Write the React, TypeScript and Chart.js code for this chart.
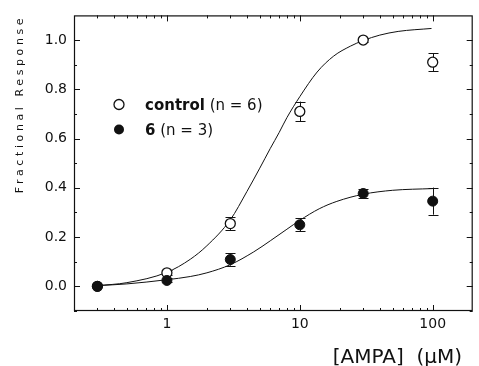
import React, { useEffect, useRef } from "react";
import { Chart, registerables } from "chart.js";

Chart.register(...registerables);

// ---- data ----
const concentrations = [0.3, 1, 3, 10, 30, 100];
const controlMean = [0, 0.055, 0.255, 0.71, 1.0, 0.91];
const controlErr = [0, 0.01, 0.026, 0.04, 0.006, 0.036];
const treatedMean = [0, 0.024, 0.109, 0.25, 0.377, 0.346];
const treatedErr = [0, 0.008, 0.025, 0.026, 0.02, 0.055];

const controlFitX = [0.3, 0.5, 1, 1.5, 2, 3, 4, 5, 6, 7, 8, 10, 13.5, 18, 24, 30, 40, 55, 98];
const controlFitY = [0.003, 0.015, 0.057, 0.11, 0.165, 0.27, 0.385, 0.48, 0.56, 0.625, 0.685, 0.77, 0.87, 0.935, 0.975, 0.998, 1.02, 1.035, 1.047];
const treatedFitX = [0.3, 0.5, 1, 1.5, 2, 3, 4.5, 6, 8, 10, 14, 19, 30, 50, 100];
const treatedFitY = [0.003, 0.01, 0.027, 0.04, 0.055, 0.088, 0.14, 0.185, 0.232, 0.268, 0.315, 0.345, 0.374, 0.39, 0.397];

const xTickValues = [1, 10, 100];
const yTickValues = [0, 0.2, 0.4, 0.6, 0.8, 1.0];
const yMinorValues = [-0.1, 0.1, 0.3, 0.5, 0.7, 0.9];
const xMinorMultipliers = [2, 3, 4, 5, 6, 7, 8, 9];
const xDecades = [0.1, 1, 10, 100];

const xTitle = "[AMPA]  (\u03BCM)";
const yTitle = "Fractional Response";
const legendBold = ["control", "6"];
const legendRest = [" (n = 6)", " (n = 3)"];
const legendFilled = [false, true];

const FONT = "'DejaVu Sans', 'Liberation Sans', Arial, sans-serif";
const INK = "#111";

const decorPlugin = {
  id: "decor",
  beforeDatasetsDraw(chart: any) {
    const { ctx } = chart;
    const xs = chart.scales.x;
    const ys = chart.scales.y;
    ctx.save();
    ctx.strokeStyle = INK;
    ctx.lineWidth = 1;
    const drawBars = (means: number[], errs: number[]) => {
      concentrations.forEach((c, i) => {
        if (!errs[i]) return;
        const px = Math.round(xs.getPixelForValue(c)) + 0.5;
        const top = ys.getPixelForValue(means[i] + errs[i]);
        const bot = ys.getPixelForValue(means[i] - errs[i]);
        ctx.beginPath();
        ctx.moveTo(px, top);
        ctx.lineTo(px, bot);
        ctx.moveTo(px - 5, Math.round(top) + 0.5);
        ctx.lineTo(px + 5, Math.round(top) + 0.5);
        ctx.moveTo(px - 5, Math.round(bot) + 0.5);
        ctx.lineTo(px + 5, Math.round(bot) + 0.5);
        ctx.stroke();
      });
    };
    drawBars(controlMean, controlErr);
    drawBars(treatedMean, treatedErr);
    ctx.restore();
  },
  afterDraw(chart: any) {
    const { ctx, chartArea: a } = chart;
    const xs = chart.scales.x;
    const ys = chart.scales.y;
    ctx.save();
    ctx.strokeStyle = INK;
    ctx.lineWidth = 1.2;
    // frame
    ctx.strokeRect(a.left + 0.5, a.top + 0.5, a.right - a.left - 1, a.bottom - a.top - 1);

    ctx.lineWidth = 1;
    const major = 6;
    const minor = 3;
    ctx.beginPath();
    // y ticks (inward, left and right)
    const yTick = (v: number, len: number) => {
      const py = Math.round(ys.getPixelForValue(v)) + 0.5;
      ctx.moveTo(a.left, py);
      ctx.lineTo(a.left + len, py);
      ctx.moveTo(a.right, py);
      ctx.lineTo(a.right - len, py);
    };
    yTickValues.forEach((v) => yTick(v, major));
    yMinorValues.forEach((v) => yTick(v, minor));
    // x ticks (inward, bottom and top)
    const xTick = (v: number, len: number) => {
      const px = Math.round(xs.getPixelForValue(v)) + 0.5;
      if (px <= a.left + 1 || px >= a.right - 1) return;
      ctx.moveTo(px, a.bottom);
      ctx.lineTo(px, a.bottom - len);
      ctx.moveTo(px, a.top);
      ctx.lineTo(px, a.top + len);
    };
    xTickValues.forEach((v) => xTick(v, major));
    xDecades.forEach((d) =>
      xMinorMultipliers.forEach((m) => {
        const v = m * d;
        if (v > xs.min && v < xs.max) xTick(v, minor);
      })
    );
    ctx.stroke();

    // x title
    ctx.fillStyle = INK;
    ctx.font = `20px ${FONT}`;
    ctx.textAlign = "right";
    ctx.textBaseline = "alphabetic";
    ctx.fillText(xTitle, 462, 363);

    // y title (rotated, letter-spaced)
    ctx.save();
    ctx.font = `11px ${FONT}`;
    (ctx as any).letterSpacing = "3.6px";
    ctx.translate(23, 104);
    ctx.rotate(-Math.PI / 2);
    ctx.textAlign = "center";
    ctx.fillText(yTitle, 0, 0);
    ctx.restore();

    // legend
    const rows = [109.5, 134.5];
    rows.forEach((base, i) => {
      ctx.beginPath();
      ctx.arc(119, base - 5, 5, 0, Math.PI * 2);
      if (legendFilled[i]) {
        ctx.fillStyle = INK;
        ctx.fill();
      } else {
        ctx.fillStyle = "#fff";
        ctx.fill();
        ctx.lineWidth = 1.3;
        ctx.stroke();
      }
      ctx.fillStyle = INK;
      ctx.textAlign = "left";
      ctx.font = `bold 15px ${FONT}`;
      ctx.fillText(legendBold[i], 145, base);
      const w = ctx.measureText(legendBold[i]).width;
      ctx.font = `15px ${FONT}`;
      ctx.fillText(legendRest[i], 145 + w, base);
    });
    ctx.restore();
  },
};

export default function App() {
  const ref = useRef<HTMLCanvasElement | null>(null);
  useEffect(() => {
    if (!ref.current) return;
    const pts = (xs: number[], ys: number[]) => xs.map((x, i) => ({ x, y: ys[i] }));
    // Chart.js paints the first dataset last (on top): filled points, then open points, then curves
    const chart = new Chart(ref.current, {
      type: "scatter",
      data: {
        datasets: [
          {
            label: "6 (n = 3)",
            data: pts(concentrations, treatedMean),
            pointRadius: 5,
            pointBackgroundColor: INK,
            pointBorderColor: INK,
            pointBorderWidth: 1,
          },
          {
            label: "control (n = 6)",
            data: pts(concentrations, controlMean),
            pointRadius: 5,
            pointBackgroundColor: "#fff",
            pointBorderColor: INK,
            pointBorderWidth: 1.3,
          },
          {
            label: "control fit",
            data: pts(controlFitX, controlFitY),
            showLine: true,
            borderColor: INK,
            borderWidth: 1,
            pointRadius: 0,
            cubicInterpolationMode: "monotone",
          },
          {
            label: "6 fit",
            data: pts(treatedFitX, treatedFitY),
            showLine: true,
            borderColor: INK,
            borderWidth: 1,
            pointRadius: 0,
            cubicInterpolationMode: "monotone",
          },
        ],
      } as any,
      options: {
        animation: false,
        responsive: false,
        devicePixelRatio: 1,
        layout: { padding: { top: 14, right: 1, left: 0, bottom: 0 } },
        plugins: { legend: { display: false }, tooltip: { enabled: false } },
        scales: {
          x: {
            type: "logarithmic",
            min: 0.2,
            max: 200,
            grid: { display: false, drawTicks: false },
            border: { display: false },
            afterBuildTicks: (s: any) => {
              s.ticks = xTickValues.map((v) => ({ value: v }));
            },
            afterFit: (s: any) => {
              s.height = 55;
            },
            ticks: {
              autoSkip: false,
              maxRotation: 0,
              padding: 5,
              color: INK,
              font: { family: FONT, size: 14 },
              callback: (v: any) => String(v),
            },
          },
          y: {
            type: "linear",
            min: -0.1,
            max: 1.1,
            grid: { display: false, drawTicks: false },
            border: { display: false },
            afterBuildTicks: (s: any) => {
              s.ticks = yTickValues.map((v) => ({ value: v }));
            },
            afterFit: (s: any) => {
              s.width = 74;
            },
            ticks: {
              padding: 7,
              color: INK,
              font: { family: FONT, size: 14 },
              callback: (v: any) => Number(v).toFixed(1),
            },
          },
        },
      } as any,
      plugins: [decorPlugin],
    });
    return () => chart.destroy();
  }, []);
  return (
    <div style={{ position: "fixed", left: 0, top: 0, width: 479, height: 366, background: "#fff" }}>
      <canvas ref={ref} width={479} height={366} style={{ display: "block", width: 479, height: 366 }} />
    </div>
  );
}
